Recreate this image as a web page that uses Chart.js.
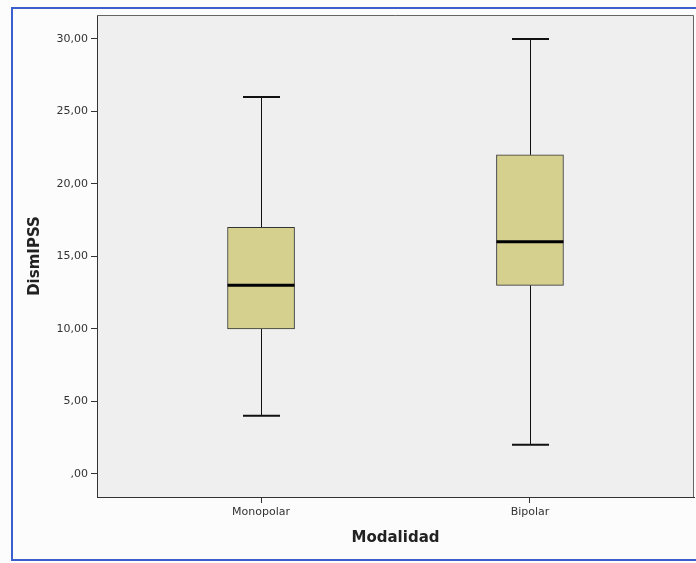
<!DOCTYPE html>
<html>
<head>
<meta charset="utf-8">
<script src="https://cdn.jsdelivr.net/npm/chart.js@4.4.1/dist/chart.umd.min.js"></script>
<style>
  body { margin: 0; background: #fcfcfc; }
  canvas { display: block; }
</style>
</head>
<body>
<canvas id="chart1" width="696" height="563"></canvas>
<script>
// boxplot figures
const categories = ['Monopolar', 'Bipolar'];
const mins = [4, 2];
const q1s = [10, 13];
const medians = [13, 16];
const q3s = [17, 22];
const maxs = [26, 30];
const yTicks = [0, 5, 10, 15, 20, 25, 30];
const yTickLabels = [',00', '5,00', '10,00', '15,00', '20,00', '25,00', '30,00'];

const boxColor = '#d6d08f';
const capWidth = 37;

const boxPlot = {
    id: 'boxPlot',
    beforeDraw(chart) {
        const { ctx, chartArea: a } = chart;
        ctx.save();
        ctx.fillStyle = '#fcfcfc';
        ctx.fillRect(0, 0, chart.width, chart.height);
        ctx.fillStyle = '#efefef';
        ctx.fillRect(a.left, a.top, a.right - a.left, a.bottom - a.top);
        // blue frame round the figure
        ctx.strokeStyle = '#3c5fd0';
        ctx.lineWidth = 2;
        ctx.beginPath();
        ctx.moveTo(chart.width + 2, 8);
        ctx.lineTo(12, 8);
        ctx.lineTo(12, 560);
        ctx.lineTo(chart.width + 2, 560);
        ctx.stroke();
        ctx.restore();
    },
    beforeDatasetsDraw(chart) {
        const { ctx, scales: { x, y } } = chart;
        ctx.save();
        ctx.strokeStyle = '#111';
        categories.forEach((c, i) => {
            const px = Math.round(x.getPixelForValue(i + 1)) + 0.5;
            ctx.lineWidth = 1;
            ctx.beginPath();
            ctx.moveTo(px, y.getPixelForValue(q3s[i]));
            ctx.lineTo(px, y.getPixelForValue(maxs[i]));
            ctx.moveTo(px, y.getPixelForValue(q1s[i]));
            ctx.lineTo(px, y.getPixelForValue(mins[i]));
            ctx.stroke();
            ctx.lineWidth = 2;
            ctx.beginPath();
            [mins[i], maxs[i]].forEach(v => {
                const py = y.getPixelForValue(v);
                ctx.moveTo(px - capWidth / 2, py);
                ctx.lineTo(px + capWidth / 2, py);
            });
            ctx.stroke();
        });
        ctx.restore();
    },
    afterDatasetsDraw(chart) {
        const { ctx, chartArea: a, scales: { x, y } } = chart;
        const meta = chart.getDatasetMeta(0);
        ctx.save();
        ctx.strokeStyle = '#000';
        ctx.lineWidth = 3;
        meta.data.forEach((bar, i) => {
            const py = y.getPixelForValue(medians[i]);
            ctx.beginPath();
            ctx.moveTo(bar.x - bar.width / 2, py);
            ctx.lineTo(bar.x + bar.width / 2, py);
            ctx.stroke();
        });
        // top and right edge of the plot
        ctx.strokeStyle = '#666';
        ctx.lineWidth = 1;
        ctx.beginPath();
        ctx.moveTo(a.left, a.top + 0.5);
        ctx.lineTo(a.right - 0.5, a.top + 0.5);
        ctx.lineTo(a.right - 0.5, a.bottom);
        ctx.stroke();
        ctx.restore();
    }
};

const ctx1 = document.getElementById('chart1');
const myChart = new Chart(ctx1, {
    type: 'bar',
    data: {
        datasets: [{
            data: categories.map((c, i) => ({ x: i + 1, y: [q1s[i], q3s[i]] })),
            backgroundColor: boxColor,
            borderColor: '#333',
            borderWidth: 1,
            borderSkipped: false,
            barThickness: 67
        }]
    },
    options: {
        responsive: false,
        animation: false,
        layout: {
            padding: { top: 15, right: 2, left: 0, bottom: 0 }
        },
        scales: {
            x: {
                type: 'linear',
                offset: false,
                min: 0.39,
                max: 2.61,
                afterBuildTicks: scale => {
                    scale.ticks = categories.map((c, i) => ({ value: i + 1 }));
                },
                afterFit: scale => {
                    scale.height = 66;
                },
                grid: {
                    offset: false,
                    drawOnChartArea: false,
                    tickLength: 6,
                    color: '#333'
                },
                border: { color: '#333', width: 1 },
                ticks: {
                    color: '#333',
                    padding: 3,
                    font: { family: 'DejaVu Sans', size: 11 },
                    callback: v => categories[v - 1]
                },
                title: {
                    display: true,
                    text: 'Modalidad',
                    color: '#222',
                    padding: { top: 0, bottom: 16 },
                    font: { family: 'DejaVu Sans', size: 15, weight: 'bold' }
                }
            },
            y: {
                min: -1.6,
                max: 31.65,
                afterBuildTicks: scale => {
                    scale.ticks = yTicks.map(v => ({ value: v }));
                },
                afterFit: scale => {
                    scale.width = 97;
                },
                grid: {
                    drawOnChartArea: false,
                    tickLength: 6,
                    color: '#333'
                },
                border: { color: '#333', width: 1 },
                ticks: {
                    color: '#333',
                    padding: 3,
                    font: { family: 'DejaVu Sans', size: 11 },
                    callback: v => yTickLabels[yTicks.indexOf(v)]
                },
                title: {
                    display: true,
                    text: 'DismIPSS',
                    color: '#222',
                    padding: { top: 26, bottom: 0 },
                    font: { family: 'DejaVu Sans', size: 15, weight: 'bold' }
                }
            }
        },
        plugins: {
            legend: { display: false },
            tooltip: { enabled: false }
        }
    },
    plugins: [boxPlot]
});
</script>
</body>
</html>
